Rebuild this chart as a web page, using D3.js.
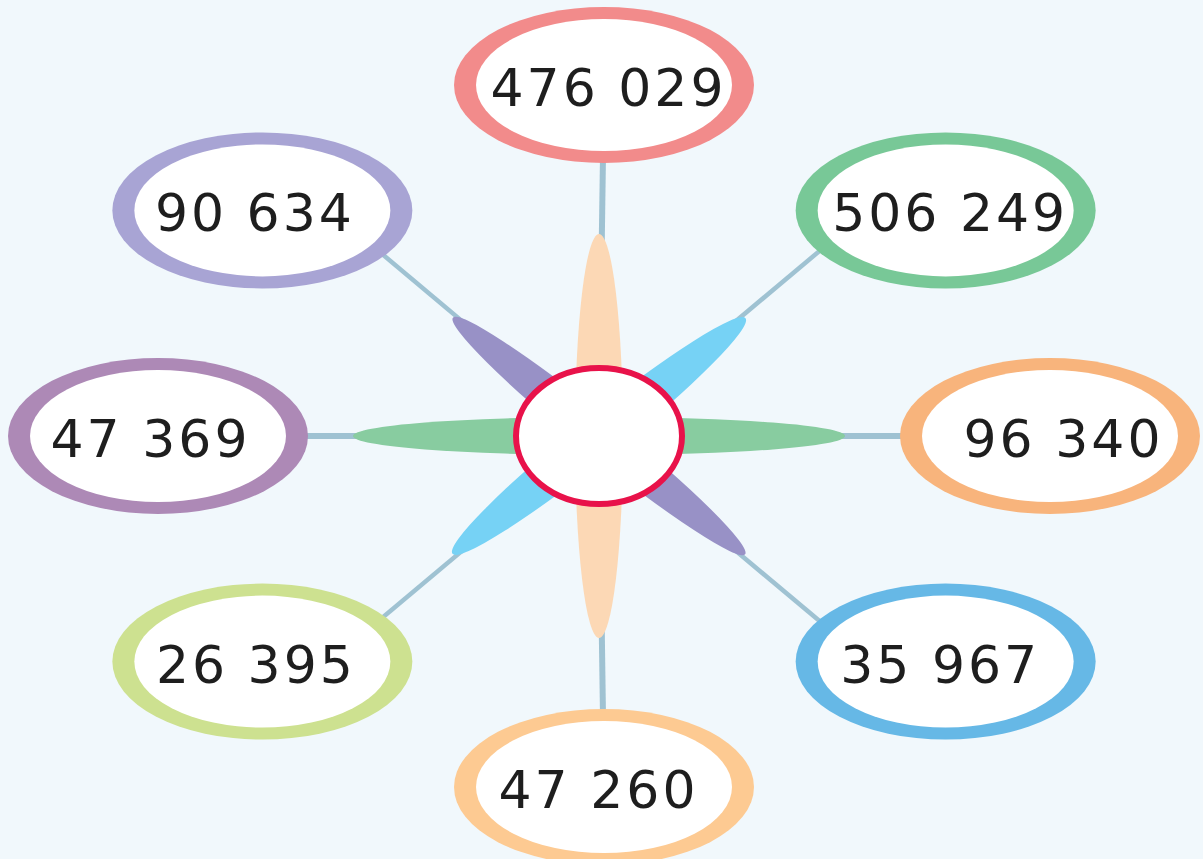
<!DOCTYPE html>
<html><head><meta charset="utf-8">
<script src="https://cdn.jsdelivr.net/npm/d3@7"></script>
<style>html,body{margin:0;padding:0;background:#f1f8fc;} svg{display:block}</style>
</head><body><svg id="c" width="1203" height="859"></svg>
<script>
// ---- data ----
const labels = ["476 029","506 249","96 340","35 967","47 260","26 395","47 369","90 634"];
const ringColors = ["#f28b8b","#78c897","#f8b47c","#66b8e6","#fdca92","#cde190","#ad89b6","#a8a4d4"];
const spokeAngles = [-90,-40,0,40,90,140,180,220];
const petalColors = ["#9891c6","#76d2f5","#fcd8b5","#88cca0"];
const petalAngles = [39,-38.8,90,0];
const petalLengths = [188,188,202,246];
const petalWidths = [19,21,24,19];
const labelNudge = [3,3,12,-7,-7,-8,-9,-9];

// ---- layout ----
const W = 1203, H = 859;
const svg = d3.select("#c");
svg.append("rect").attr("width", W).attr("height", H).attr("fill", "#f1f8fc");

const hub = {x: 599, y: 436};
const ringCenter = {x: 604, y: 436};
const xScale = d3.scaleLinear().domain([-1, 1]).range([ringCenter.x - 446, ringCenter.x + 446]);
const yScale = d3.scaleLinear().domain([-1, 1]).range([ringCenter.y - 351, ringCenter.y + 351]);
const rad = a => a * Math.PI / 180;

const nodes = labels.map((l, i) => ({label: l, color: ringColors[i], ang: spokeAngles[i], nudge: labelNudge[i],
  x: xScale(Math.cos(rad(spokeAngles[i]))), y: yScale(Math.sin(rad(spokeAngles[i])))}));

// spokes
svg.append("g").selectAll("line").data(nodes).join("line")
  .attr("x1", hub.x).attr("y1", hub.y)
  .attr("x2", d => d.ang % 90 === 0 ? d.x : hub.x + 300 * Math.cos(rad(d.ang)))
  .attr("y2", d => d.ang % 90 === 0 ? d.y : hub.y + 300 * Math.sin(rad(d.ang)))
  .attr("stroke", "#9fc2d2")
  .attr("stroke-width", d => d.ang % 90 === 0 ? 6 : 4.5);

// petals
const petals = petalColors.map((c, i) => ({color: c, ang: petalAngles[i], L: petalLengths[i], w: petalWidths[i]}));
svg.append("g").selectAll("ellipse").data(petals).join("ellipse")
  .attr("rx", d => d.L).attr("ry", d => d.w)
  .attr("transform", d => `translate(${hub.x},${hub.y}) rotate(${d.ang})`)
  .attr("fill", d => d.color);

// hub
svg.append("ellipse").attr("cx", hub.x).attr("cy", hub.y).attr("rx", 83).attr("ry", 68)
  .attr("fill", "#fff").attr("stroke", "#e8124a").attr("stroke-width", 6);

// rings
const g = svg.append("g").selectAll("g").data(nodes).join("g")
  .attr("transform", d => `translate(${d.x},${d.y})`);
g.append("ellipse").attr("rx", 150).attr("ry", 78).attr("fill", d => d.color);
g.append("ellipse").attr("rx", 128).attr("ry", 66).attr("fill", "#fff");
g.append("text")
  .attr("x", d => d.nudge + 1.5).attr("y", 21)
  .attr("text-anchor", "middle")
  .attr("font-family", "'DejaVu Sans', sans-serif")
  .attr("font-size", 52)
  .attr("letter-spacing", 3)
  .attr("fill", "#1e1e1e")
  .text(d => d.label);
</script>
</body></html>
